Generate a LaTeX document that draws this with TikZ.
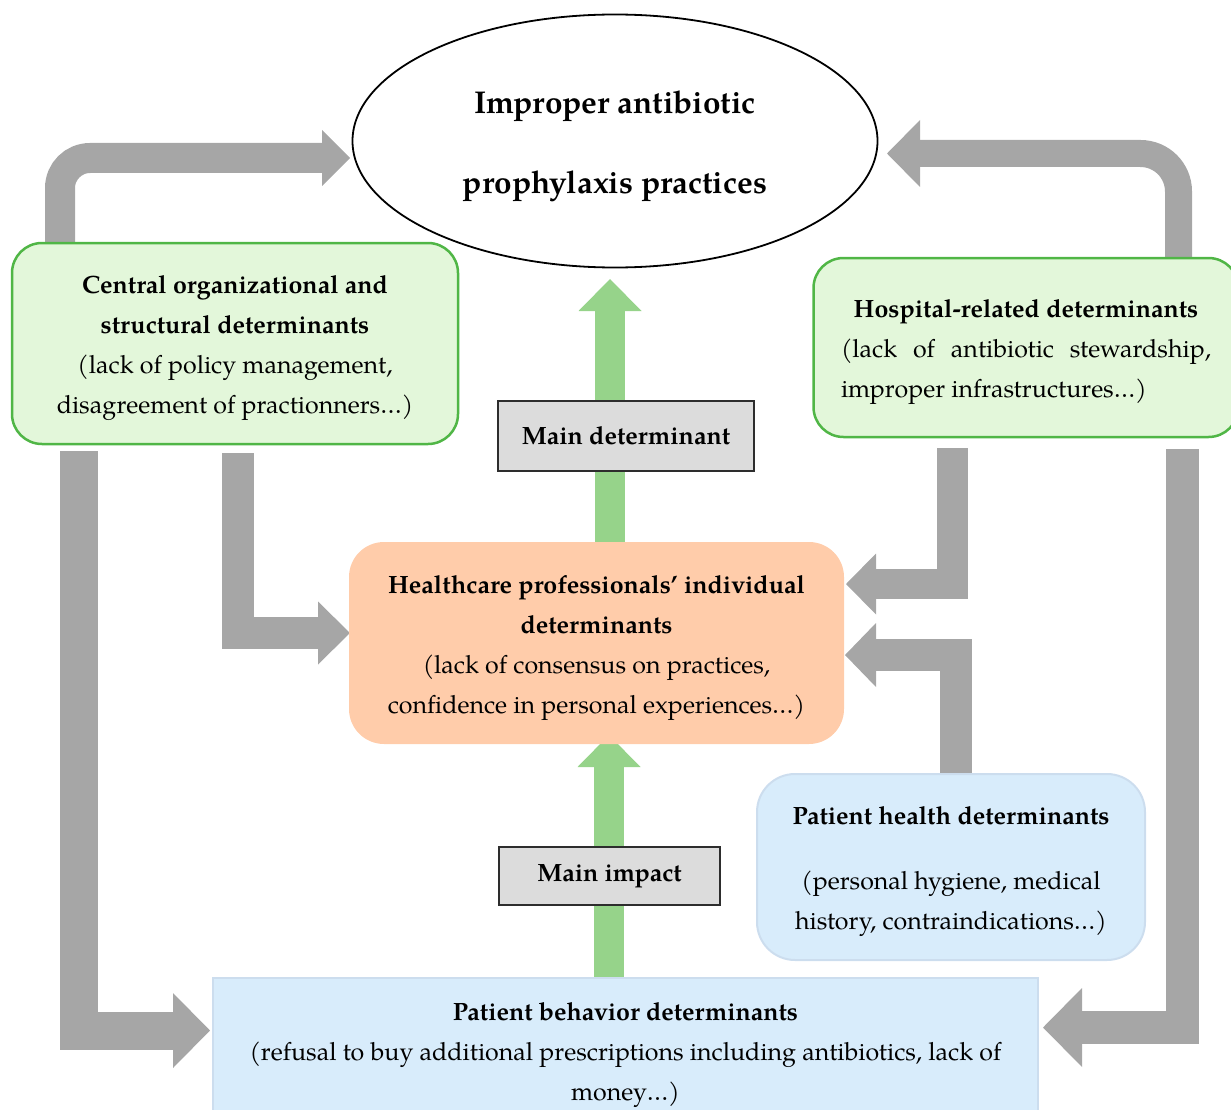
\documentclass[tikz,border=0pt]{standalone}
\usepackage{fontspec}
\setmainfont{TeX Gyre Pagella}
\usetikzlibrary{arrows.meta,shapes.geometric}
\pgfdeclarelayer{bg}
\pgfsetlayers{bg,main}
\definecolor{arrgray}{RGB}{166,166,166}
\definecolor{arrgreen}{RGB}{150,211,138}
\definecolor{gfill}{RGB}{227,247,218}
\definecolor{gline}{RGB}{80,182,70}
\definecolor{ofill}{RGB}{255,204,170}
\definecolor{bfill}{RGB}{216,236,251}
\definecolor{bline}{RGB}{204,221,238}
\definecolor{lfill}{RGB}{220,220,220}
\definecolor{lline}{RGB}{45,45,45}
\newcommand{\topstrut}{\rule{0pt}{28pt}}
\begin{document}
\begin{tikzpicture}[x=1pt,y=-1pt,
  txt/.style={font=\fontsize{25}{40}\selectfont, align=center, inner sep=0pt},
  gbox/.style={txt, draw=gline, line width=2.5pt, fill=gfill, rounded corners=30pt},
  obox/.style={txt, fill=ofill, rounded corners=35pt},
  hbox/.style={txt, draw=bline, line width=2pt, fill=bfill, rounded corners=38pt},
  rbox/.style={txt, draw=bline, line width=2pt, fill=bfill},
  lbox/.style={txt, font=\fontsize{25}{40}\selectfont\bfseries, draw=lline, line width=1.5pt, fill=lfill},
  garrow/.style={draw=arrgreen, line width=30pt, -{Triangle[length=32pt,width=63pt,line width=0pt]}},
  grayarrow/.style={draw=arrgray}
]
\useasboundingbox (0,0) rectangle (1231,1110);

% main nodes
\node[draw, ellipse, line width=1.8pt, fill=white, minimum width=525pt, minimum height=253pt, inner sep=0pt,
      font=\fontsize{31.5}{80}\selectfont\bfseries, align=center] (top) at (615,141)
      {\rule{0pt}{33pt}Improper antibiotic\\prophylaxis practices};

\node[gbox, minimum width=446pt, minimum height=201pt] (cent) at (235,343.5)
  {\topstrut\textbf{Central organizational and}\\\textbf{structural determinants}\\(lack of policy management,\\disagreement of practionners\dots)};

\node[gbox, minimum width=425pt, minimum height=179pt, align=left] (hosp) at (1026,347.5)
  {\topstrut\makebox[370pt][c]{\textbf{Hospital-related determinants}}\\\makebox[370pt][s]{(lack of antibiotic stewardship,}\\improper infrastructures\dots)};

\node[obox, minimum width=495pt, minimum height=202pt] (hcp) at (596.5,643)
  {\topstrut\textbf{Healthcare professionals’ individual}\\\textbf{determinants}\\(lack of consensus on practices,\\confidence in personal experiences\dots)};

\node[hbox, minimum width=388pt, minimum height=186pt] (health) at (951,867)
  {\topstrut\textbf{Patient health determinants}\\[25pt](personal hygiene, medical\\history, contraindications\dots)};

\node[rbox, minimum width=825pt, minimum height=144pt] (beh) at (625.5,1050)
  {\topstrut\textbf{Patient behavior determinants}\\(refusal to buy additional prescriptions including antibiotics, lack of\\money\dots)};

% arrows (behind)
\begin{pgfonlayer}{bg}
\draw[garrow] (610,0 |- hcp.north) -- (610,279);
\draw[garrow] (609,0 |- beh.north) -- (609,735);

\draw[grayarrow, line width=30pt, rounded corners=30pt, -{Triangle[length=28pt,width=56pt,line width=0pt]}]
  (60,0 |- cent.north) -- (60,158) -- (350,158);
\draw[grayarrow, line width=27pt, rounded corners=38pt, -{Triangle[length=33pt,width=67pt,line width=0pt]}]
  (1178.5,0 |- hosp.north) -- (1178.5,153.5) -- (887,153.5);
\draw[grayarrow, line width=32pt, -{Triangle[length=32pt,width=63pt,line width=0pt]}]
  (238,453) -- (238,633) -- (350,633);
\draw[grayarrow, line width=30.5pt, -{Triangle[length=30pt,width=61pt,line width=0pt]}]
  (952.5,448) -- (952.5,584) -- (846,584);
\draw[grayarrow, line width=32pt, -{Triangle[length=31pt,width=64pt,line width=0pt]}]
  (956,0 |- health.north) -- (956,655) -- (845,655);
\draw[grayarrow, line width=38pt, -{Triangle[length=37pt,width=75pt,line width=0pt]}]
  (78.5,451) -- (78.5,1030.5) -- (210,1030.5);
\draw[grayarrow, line width=33pt, -{Triangle[length=39pt,width=79pt,line width=0pt]}]
  (1182.5,449) -- (1182.5,1027.5) -- (1043,1027.5);
\end{pgfonlayer}

% labels on the green arrows
\node[lbox, minimum width=256pt, minimum height=70pt] (md) at (626,436) {Main determinant};
\node[lbox, minimum width=221pt, minimum height=58pt] (mi) at (609.5,876) {Main impact};
\end{tikzpicture}
\end{document}
